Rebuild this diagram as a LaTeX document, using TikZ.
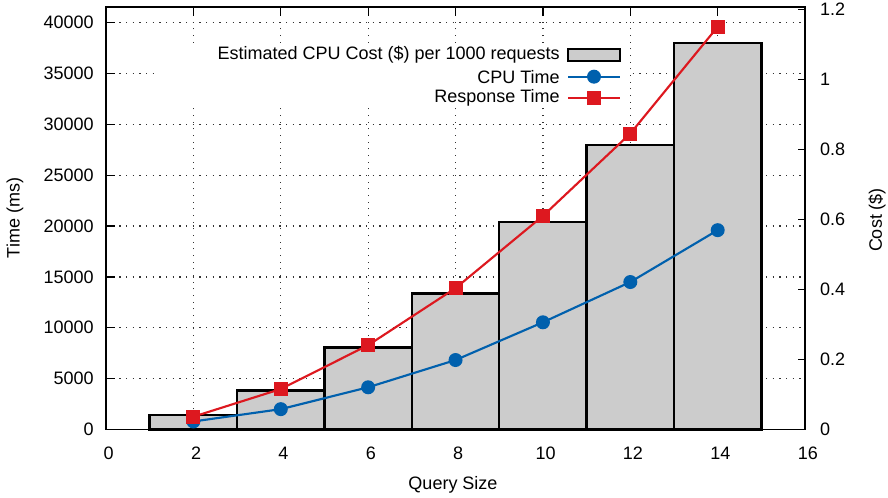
\documentclass[tikz,border=0pt]{standalone}
\usepackage{fontspec}
\setmainfont{Liberation Sans}
\usepackage{xcolor}
\usepackage{tikz}
\usetikzlibrary{positioning}

\definecolor{cpublue}{RGB}{0,96,173}
\definecolor{resred}{RGB}{221,24,31}
\definecolor{barfill}{RGB}{204,204,204}

\begin{document}
\begin{tikzpicture}[x=0.75pt,y=0.75pt,
  every node/.style={font=\fontsize{13.5}{16}\selectfont},
  gridline/.style={black!80,line width=0.9pt,dash pattern=on 0.9pt off 4.1pt},
  axtick/.style={black,line width=0.9pt},
  costbar/.style={draw=black,fill=barfill,line width=1.8pt},
  cpuline/.style={cpublue,line width=1.6pt},
  resline/.style={resred,line width=1.6pt},
  cpumark/.style={circle,fill=cpublue,inner sep=0pt,minimum size=10.5pt},
  resmark/.style={rectangle,fill=resred,inner sep=0pt,minimum size=10.5pt},
  keytext/.style={anchor=east,inner sep=0pt}]
\useasboundingbox (0,0) rectangle (888,498);

\begin{scope}[shift={(106,68.5)},x=32.77pt,y=7.6275pt]
\coordinate (ll) at (0,0);
\coordinate (ur) at (16,41.54);

% dotted grid
\foreach \t in {5,10,...,40}
  \draw[gridline] (0,\t) -- (16,\t);
\foreach \q in {2,4,...,14}
  \draw[gridline] (\q,0) -- (\q,41.54);
\end{scope}

% legend background
\fill[white] (157,390) rectangle (628,455);

\begin{scope}[shift={(106,68.5)},x=32.77pt,y=7.6275pt]
% ticks and tick labels
\foreach \t/\lab in {0/0,5/5000,10/10000,15/15000,20/20000,25/25000,30/30000,35/35000,40/40000} {
  \draw[axtick] (0,\t) -- ++(6.5pt,0);
  \node[anchor=east,inner sep=1pt] (yl\t) at ([xshift=-8pt]0,\t) {\lab};
}
\foreach \c in {0,0.2,0.4,0.6,0.8,1,1.2} {
  \draw[axtick] (16,\c*34.415) -- ++(-5.5pt,0);
  \node[anchor=west,inner sep=1pt] (cl\c) at ([xshift=10pt]16,\c*34.415) {\c};
}
\foreach \q in {0,2,...,16} {
  \draw[axtick] (\q,0) -- ++(0,6.5pt);
  \draw[axtick] (\q,41.54) -- ++(0,-7pt);
  \node (xl\q) at ([xshift=2pt,yshift=-17.6pt]\q,0) {\q};
}

% cost bars
\foreach \q/\c in {2/0.041,4/0.111,6/0.234,8/0.389,10/0.592,12/0.813,14/1.104}
  \draw[costbar] (\q-1,0) rectangle (\q+1,\c*34.415);

% CPU time
\foreach \q/\t in {2/0.79,4/2.0,6/4.15,8/6.83,10/10.54,12/14.5,14/19.6}
  \coordinate (cpu\q) at (\q,\t);
\draw[cpuline] (cpu2) -- (cpu4) -- (cpu6) -- (cpu8) -- (cpu10) -- (cpu12) -- (cpu14);
\foreach \q in {2,4,...,14}
  \node[cpumark] (cpum\q) at (cpu\q) {};

% response time
\foreach \q/\t in {2/1.26,4/3.98,6/8.29,8/13.9,10/21.0,12/29.1,14/39.6}
  \coordinate (res\q) at (\q,\t);
\draw[resline] (res2) -- (res4) -- (res6) -- (res8) -- (res10) -- (res12) -- (res14);
\foreach \q in {2,4,...,14}
  \node[resmark] (resm\q) at (res\q) {};

% frame
\draw[line width=1.1pt] (ll) rectangle (ur);
\end{scope}

% legend
\node[keytext] (keybar) at (560,443) {Estimated CPU Cost (\$) per 1000 requests};
\node[keytext] (keycpu) at (560,421.3) {CPU Time};
\node[keytext] (keyres) at (560,399.7) {Response Time};
\draw[costbar] ([xshift=6pt,yshift=-4.3pt]keybar.east) rectangle ([xshift=45pt,yshift=4.3pt]keybar.east);
\draw[cpuline] ([xshift=6pt]keycpu.east) -- ([xshift=45pt]keycpu.east)
  node[cpumark,midway] (keycpum) {};
\draw[resline] ([xshift=6pt]keyres.east) -- ([xshift=45pt]keyres.east)
  node[resmark,midway] (keyresm) {};

% axis titles
\node[rotate=90] (ytitle) at (15,280) {Time (ms)};
\node[rotate=90] (y2title) at (877,278) {Cost (\$)};
\node (xtitle) at (453,13) {Query Size};
\end{tikzpicture}
\end{document}
